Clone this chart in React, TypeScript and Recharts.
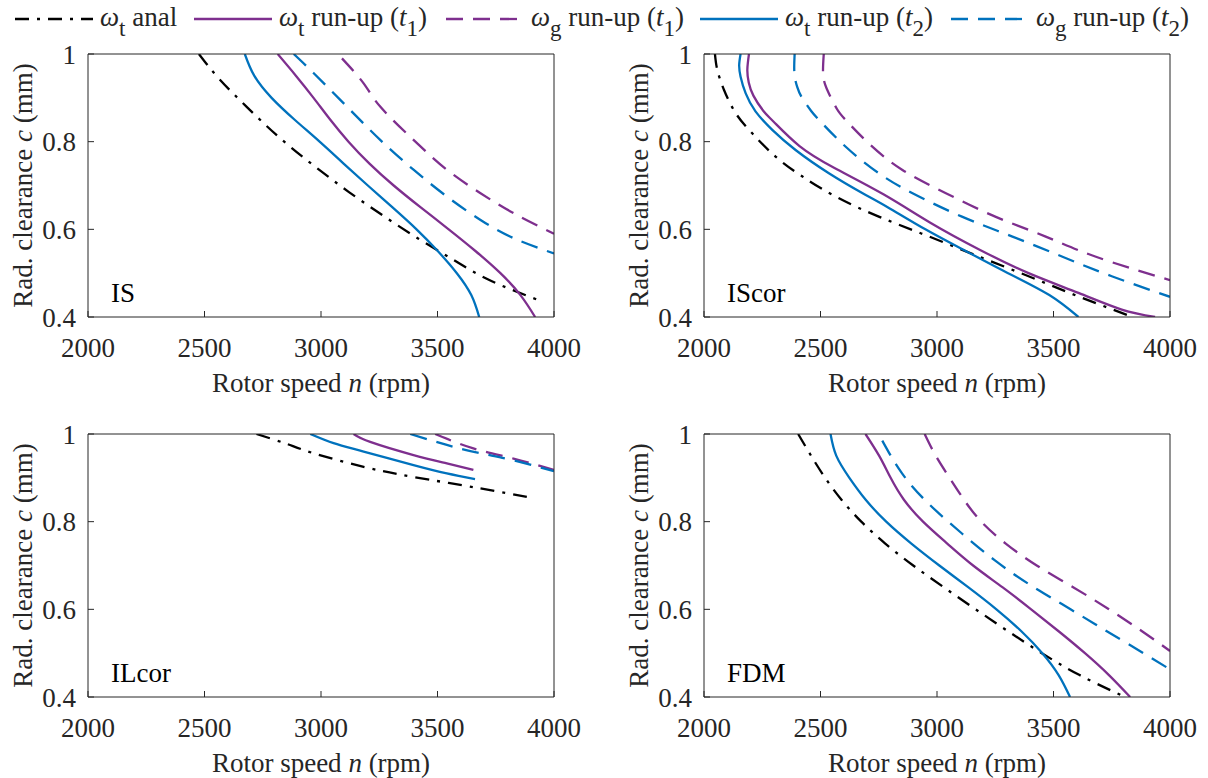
import React from 'react';
import { LineChart, Line, XAxis, YAxis } from 'recharts';

type Pt = [number, number]; // [rotor speed n (rpm), clearance c (mm)]

const xTicks = [2000, 2500, 3000, 3500, 4000];
const yTicks = [0.4, 0.6, 0.8, 1];

// IS
const isAnal: Pt[] = [[2476, 1.0], [2560, 0.945], [2680, 0.88], [2820, 0.81], [2970, 0.745], [3120, 0.685], [3270, 0.63], [3420, 0.578], [3570, 0.53], [3720, 0.485], [3926, 0.44]];
const isWt1: Pt[] = [[2814, 1.0], [2893, 0.95], [2968, 0.9], [3040, 0.85], [3118, 0.8], [3208, 0.75], [3312, 0.7], [3428, 0.65], [3548, 0.6], [3664, 0.55], [3770, 0.5], [3856, 0.45], [3919, 0.4]];
const isWg1: Pt[] = [[3090, 0.99], [3183, 0.933], [3254, 0.88], [3397, 0.804], [3540, 0.736], [3683, 0.683], [3826, 0.637], [4000, 0.59]];
const isWt2: Pt[] = [[2673, 1.0], [2714, 0.95], [2788, 0.9], [2887, 0.85], [2994, 0.8], [3097, 0.75], [3201, 0.7], [3307, 0.65], [3410, 0.6], [3502, 0.55], [3583, 0.5], [3645, 0.45], [3679, 0.4]];
const isWg2: Pt[] = [[2883, 1.0], [2969, 0.956], [3111, 0.88], [3254, 0.804], [3397, 0.736], [3540, 0.675], [3683, 0.622], [3826, 0.58], [4000, 0.545]];

// IScor
const iscAnal: Pt[] = [[2047, 1.0], [2057, 0.964], [2086, 0.918], [2136, 0.865], [2207, 0.819], [2307, 0.766], [2421, 0.721], [2564, 0.675], [2750, 0.629], [2964, 0.584], [3179, 0.538], [3393, 0.493], [3607, 0.447], [3840, 0.4]];
const iscWt1: Pt[] = [[2193, 1.0], [2186, 0.964], [2192, 0.935], [2212, 0.905], [2255, 0.87], [2300, 0.845], [2410, 0.79], [2560, 0.74], [2770, 0.68], [2975, 0.614], [3185, 0.553], [3393, 0.5], [3607, 0.455], [3793, 0.417], [3936, 0.4]];
const iscWg1: Pt[] = [[2514, 1.0], [2511, 0.956], [2520, 0.93], [2536, 0.91], [2570, 0.875], [2607, 0.85], [2707, 0.796], [2850, 0.736], [3036, 0.683], [3250, 0.629], [3464, 0.584], [3679, 0.538], [4000, 0.484]];
const iscWt2: Pt[] = [[2157, 1.0], [2151, 0.975], [2157, 0.948], [2179, 0.91], [2221, 0.869], [2293, 0.827], [2393, 0.781], [2536, 0.728], [2679, 0.683], [2790, 0.65], [2950, 0.6], [3125, 0.55], [3305, 0.5], [3482, 0.45], [3607, 0.4]];
const iscWg2: Pt[] = [[2389, 1.0], [2388, 0.956], [2400, 0.925], [2421, 0.9], [2460, 0.87], [2493, 0.85], [2607, 0.789], [2750, 0.728], [2893, 0.683], [3107, 0.629], [3321, 0.584], [3536, 0.538], [3750, 0.493], [4000, 0.446]];

// ILcor
const ilAnal: Pt[] = [[2723, 1.0], [2850, 0.978], [2969, 0.956], [3183, 0.925], [3397, 0.902], [3683, 0.876], [3897, 0.855]];
const ilWt1: Pt[] = [[3140, 1.0], [3211, 0.982], [3397, 0.952], [3540, 0.933], [3654, 0.918]];
const ilWg1: Pt[] = [[3490, 1.0], [3654, 0.967], [3826, 0.944], [4000, 0.918]];
const ilWt2: Pt[] = [[2954, 1.0], [3054, 0.979], [3183, 0.96], [3397, 0.929], [3540, 0.91], [3661, 0.897]];
const ilWg2: Pt[] = [[3383, 1.0], [3540, 0.975], [3683, 0.956], [3826, 0.94], [4000, 0.915]];

// FDM
const fdAnal: Pt[] = [[2404, 1.0], [2460, 0.95], [2520, 0.9], [2590, 0.85], [2675, 0.8], [2778, 0.75], [2898, 0.7], [3030, 0.65], [3166, 0.6], [3305, 0.55], [3450, 0.5], [3612, 0.45], [3807, 0.4]];
const fdWt1: Pt[] = [[2693, 1.0], [2752, 0.95], [2801, 0.9], [2858, 0.85], [2940, 0.8], [3044, 0.75], [3155, 0.7], [3282, 0.65], [3404, 0.6], [3522, 0.55], [3635, 0.5], [3738, 0.45], [3829, 0.4]];
const fdWg1: Pt[] = [[2947, 1.0], [2995, 0.95], [3054, 0.9], [3116, 0.85], [3190, 0.8], [3295, 0.75], [3428, 0.7], [3586, 0.65], [3738, 0.6], [3880, 0.55], [4000, 0.505]];
const fdWt2: Pt[] = [[2543, 1.0], [2568, 0.95], [2624, 0.9], [2694, 0.85], [2782, 0.8], [2890, 0.75], [3010, 0.7], [3135, 0.65], [3255, 0.6], [3362, 0.55], [3452, 0.5], [3522, 0.45], [3571, 0.4]];
const fdWg2: Pt[] = [[2765, 0.985], [2850, 0.91], [2964, 0.841], [3107, 0.773], [3250, 0.711], [3393, 0.658], [3536, 0.612], [3679, 0.566], [3821, 0.521], [4000, 0.463]];

const legendSubs = ['t', 't', 'g', 't', 'g'];
const legendRuns = ['', '1', '1', '2', '2'];

const SERIF = 'Liberation Serif, Times New Roman, serif';
const INK = '#262626';
const PURPLE = '#7E2F8E';
const BLUE = '#0072BD';
const DASH = '17 10';
const DASHDOT = '14 8 3 8';

const seriesStyle = [
  { stroke: '#000000', dash: DASHDOT },
  { stroke: PURPLE, dash: undefined },
  { stroke: PURPLE, dash: DASH },
  { stroke: BLUE, dash: undefined },
  { stroke: BLUE, dash: DASH },
];

const PW = 466;
const PH = 263;

const panels = [
  { name: 'IS', x: 88, y: 54, curves: [isAnal, isWt1, isWg1, isWt2, isWg2] },
  { name: 'IScor', x: 704, y: 54, curves: [iscAnal, iscWt1, iscWg1, iscWt2, iscWg2] },
  { name: 'ILcor', x: 88, y: 434, curves: [ilAnal, ilWt1, ilWg1, ilWt2, ilWg2] },
  { name: 'FDM', x: 704, y: 434, curves: [fdAnal, fdWt1, fdWg1, fdWt2, fdWg2] },
];

const legendX = [15, 194, 446, 700, 951];

function Panel({ x, y, curves }: { x: number; y: number; curves: Pt[][] }) {
  const tickStyle = { fill: INK, fontSize: 27, fontFamily: SERIF };
  return (
    <div style={{ position: 'absolute', left: x - 80, top: y - 20 }}>
      <LineChart width={80 + PW + 60} height={20 + PH + 60} margin={{ top: 19, right: 59, bottom: 0, left: 0 }}>
        <XAxis dataKey="n" type="number" domain={[2000, 4000]} ticks={xTicks} interval={0} allowDataOverflow
          height={60} tickSize={-6} tickMargin={27} stroke={INK} tick={tickStyle} />
        <XAxis xAxisId="top" orientation="top" dataKey="n" type="number" domain={[2000, 4000]} ticks={xTicks}
          interval={0} height={1} tickSize={-6} tick={false} stroke={INK} />
        <YAxis type="number" domain={[0.4, 1]} ticks={yTicks} interval={0} allowDataOverflow width={80}
          tickSize={-6} tickMargin={18} stroke={INK} tick={tickStyle} tickFormatter={(v: number) => String(v)} />
        <YAxis yAxisId="right" orientation="right" type="number" domain={[0.4, 1]} ticks={yTicks} interval={0}
          width={1} tickSize={-6} tick={false} stroke={INK} />
        {curves.map((pts, i) => (
          <Line key={i} data={pts.map(([n, c]) => ({ n, c }))} dataKey="c" type="natural"
            stroke={seriesStyle[i].stroke} strokeDasharray={seriesStyle[i].dash} strokeWidth={2.3}
            dot={false} activeDot={false} isAnimationActive={false} />
        ))}
      </LineChart>
    </div>
  );
}

export default function App() {
  return (
    <div style={{ position: 'relative', width: 1208, height: 778, background: '#fff', overflow: 'hidden', fontFamily: SERIF }}>
      <style>{'body{margin:0}'}</style>
      {panels.map((p) => (
        <Panel key={p.name} x={p.x} y={p.y} curves={p.curves} />
      ))}
      <svg width={1208} height={778} style={{ position: 'absolute', left: 0, top: 0, pointerEvents: 'none', fontFamily: SERIF }}
        fill={INK}>
        {legendX.map((lx, i) => (
          <g key={i}>
            <line x1={lx} x2={lx + 78} y1={19} y2={19} stroke={seriesStyle[i].stroke} strokeWidth={2.3}
              strokeDasharray={seriesStyle[i].dash} />
            <text x={lx + 85} y={26} fontSize={27} style={{ whiteSpace: 'pre' }}>
              <tspan fontStyle="italic">ω</tspan>
              <tspan fontSize={23} dy={10}>{legendSubs[i]}</tspan>
              {legendRuns[i] === '' ? (
                <tspan dy={-10}> anal</tspan>
              ) : (
                <>
                  <tspan dy={-10}> run-up (</tspan>
                  <tspan fontStyle="italic">t</tspan>
                  <tspan fontSize={23} dy={10}>{legendRuns[i]}</tspan>
                  <tspan dy={-10}>)</tspan>
                </>
              )}
            </text>
          </g>
        ))}
        {panels.map((p) => (
          <g key={p.name}>
            <text x={p.x + 23} y={p.y + PH - 15} fontSize={27} fill="#000">{p.name}</text>
            <text x={p.x + PW / 2} y={p.y + PH + 75} fontSize={27} textAnchor="middle" style={{ whiteSpace: 'pre' }}>
              Rotor speed <tspan fontStyle="italic">n</tspan> (rpm)
            </text>
            <text transform={`translate(${p.x - 56}, ${p.y + PH / 2}) rotate(-90)`} fontSize={27}
              textAnchor="middle" style={{ whiteSpace: 'pre' }}>
              Rad. clearance <tspan fontStyle="italic">c</tspan> (mm)
            </text>
          </g>
        ))}
      </svg>
    </div>
  );
}
